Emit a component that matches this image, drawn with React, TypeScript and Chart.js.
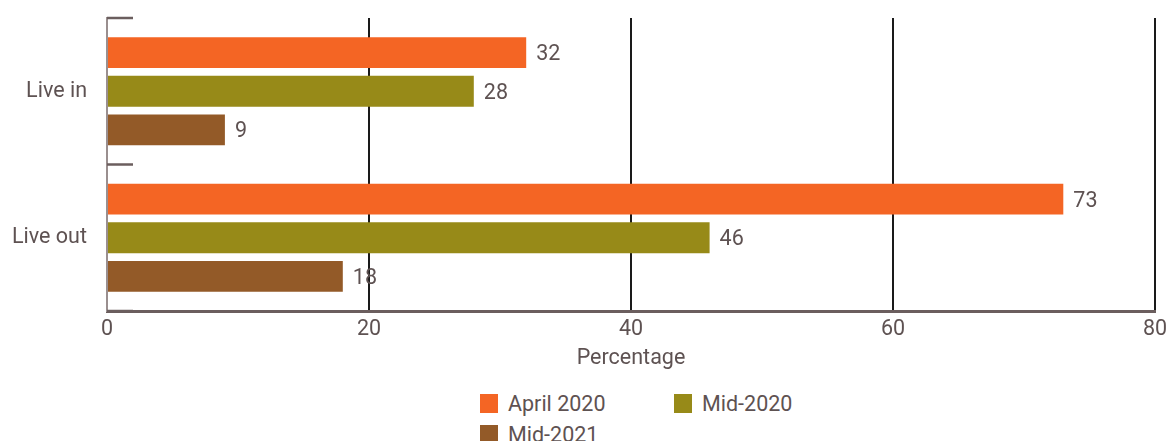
import React, { useEffect, useRef } from 'react';
import { Chart, registerables } from 'chart.js';

Chart.register(...registerables);

const categories = ['Live in', 'Live out'];
const seriesNames = ['April 2020', 'Mid-2020', 'Mid-2021'];
const april2020 = [32, 73];
const mid2020 = [28, 46];
const mid2021 = [9, 18];
const seriesColors = ['#F46524', '#978A18', '#935A28'];
const xTickStep = 20;
const xMin = 0;
const xMax = 80;
const xTitle = 'Percentage';

const TEXT = '#5e5252';
const FONT = 'Roboto, "Noto Sans", sans-serif';
const FS = 21.5;
const W = 1168;
const H = 375;

const boundaryTicks = {
  id: 'boundaryTicks',
  afterDraw(chart: any) {
    const ys = chart.scales.y;
    const ca = chart.chartArea;
    const n = categories.length;
    const step = (ys.bottom - ys.top) / n;
    const ctx = chart.ctx;
    ctx.save();
    ctx.strokeStyle = '#6b5e5e';
    ctx.lineWidth = 2.5;
    for (let i = 0; i <= n; i++) {
      const y = ys.top + i * step;
      ctx.beginPath();
      ctx.moveTo(ca.left, y);
      ctx.lineTo(ca.left + 26, y);
      ctx.stroke();
    }
    ctx.restore();
  },
};

const valueLabels = {
  id: 'valueLabels',
  afterDatasetsDraw(chart: any) {
    const ctx = chart.ctx;
    ctx.save();
    ctx.font = `${FS}px ${FONT}`;
    ctx.fillStyle = TEXT;
    ctx.textAlign = 'left';
    ctx.textBaseline = 'middle';
    chart.data.datasets.forEach((ds: any, di: number) => {
      const meta = chart.getDatasetMeta(di);
      meta.data.forEach((el: any, i: number) => {
        ctx.fillText(String(ds.data[i]), el.x + 10, el.y + 2);
      });
    });
    ctx.restore();
  },
};

export default function App() {
  const ref = useRef<HTMLCanvasElement>(null);

  useEffect(() => {
    const values = [april2020, mid2020, mid2021];
    const chart = new Chart(ref.current as HTMLCanvasElement, {
      type: 'bar',
      data: {
        labels: categories,
        datasets: seriesNames.map((name, i) => ({
          label: name,
          data: values[i],
          backgroundColor: seriesColors[i],
          borderWidth: 0,
          barPercentage: 0.8,
          categoryPercentage: 0.79,
        })),
      },
      options: {
        indexAxis: 'y',
        responsive: false,
        animation: false,
        layout: { padding: { left: 0, right: 13, top: 18, bottom: 0 } },
        plugins: {
          legend: { display: false },
          tooltip: { enabled: false },
          title: { display: false },
        },
        scales: {
          x: {
            min: xMin,
            max: xMax,
            ticks: {
              stepSize: xTickStep,
              color: TEXT,
              font: { family: FONT, size: FS },
              padding: 6,
            },
            grid: {
              color: (c: any) => (c.tick && c.tick.value === 0 ? 'rgba(0,0,0,0)' : '#1a1a1a'),
              lineWidth: 2,
              drawTicks: false,
            },
            border: { color: '#6b5e5e', width: 3 },
            title: {
              display: true,
              text: xTitle,
              color: TEXT,
              font: { family: FONT, size: FS },
              padding: { top: 0, bottom: 3 },
            },
            afterFit: (s: any) => {
              s.height = H - 311;
              s.paddingLeft = 0;
              s.paddingRight = 0;
            },
          },
          y: {
            ticks: {
              color: TEXT,
              font: { family: FONT, size: FS },
              padding: 20,
            },
            grid: { drawOnChartArea: false, drawTicks: false },
            border: { color: '#9a8f8f', width: 2 },
            afterFit: (s: any) => {
              s.width = 107;
              s.paddingTop = 0;
              s.paddingBottom = 0;
            },
          },
        },
      },
      plugins: [boundaryTicks, valueLabels],
    } as any);
    return () => chart.destroy();
  }, []);

  return (
    <div style={{ position: 'fixed', left: 0, top: 0, width: W, height: 441, background: '#fff', overflow: 'hidden' }}>
      <canvas ref={ref} width={W} height={H} style={{ display: 'block', width: W, height: H }} />
      <div
        style={{
          position: 'absolute',
          left: 480,
          top: 388,
          display: 'grid',
          gridTemplateColumns: '194px 194px',
          rowGap: 1,
          fontFamily: FONT,
          fontSize: FS,
          color: TEXT,
        }}
      >
        {seriesNames.map((name, i) => (
          <div key={name} style={{ display: 'flex', alignItems: 'center', height: 30 }}>
            <span style={{ display: 'inline-block', width: 18, height: 19, background: seriesColors[i], marginRight: 10, flex: 'none' }} />
            <span>{name}</span>
          </div>
        ))}
      </div>
    </div>
  );
}
